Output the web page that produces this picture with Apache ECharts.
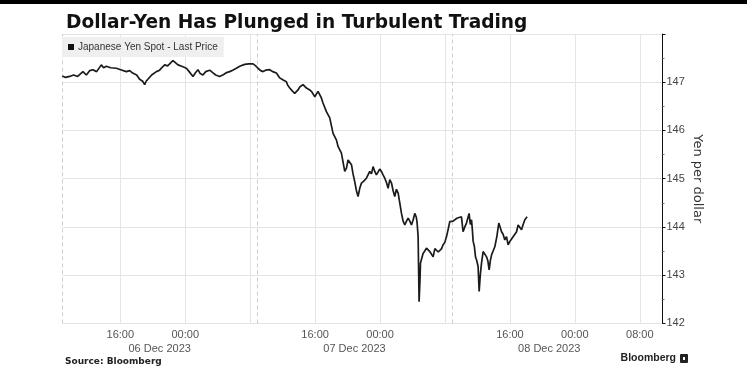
<!DOCTYPE html>
<html>
<head>
<meta charset="utf-8">
<script src="https://cdn.jsdelivr.net/npm/echarts@6/dist/echarts.min.js"></script>
<style>
html,body{margin:0;padding:0;background:#fff;}
#c{width:747px;height:385px;}
</style>
</head>
<body>
<div id="c"></div>
<script>
// Hours counted from 06 Dec 00:00 (label clock)
const times = [8.85,9.26,9.75,10.24,10.74,11.39,11.81,12.22,12.62,13.08,13.66,13.94,14.27,14.80,15.51,16.04,16.74,17.15,17.52,18.01,18.38,18.75,19.00,19.18,19.40,19.86,20.44,20.84,21.21,21.46,21.83,22.20,22.48,22.82,23.10,23.56,24.14,24.48,24.67,24.95,25.28,25.57,25.84,26.18,26.52,26.76,27.01,27.38,27.75,28.24,28.73,29.10,29.47,29.84,30.30,30.71,31.32,31.82,32.35,32.68,32.96,33.29,33.58,33.91,34.40,34.77,35.23,35.64,36.01,36.46,36.62,36.87,37.18,37.49,37.89,38.10,38.51,38.93,39.34,39.59,39.96,40.36,40.78,40.97,41.39,41.59,41.80,42.01,42.21,42.42,42.63,42.82,43.03,43.24,43.44,43.65,43.86,44.06,44.27,44.48,44.67,44.88,45.09,45.29,45.50,45.71,45.99,46.32,46.52,46.73,46.94,47.14,47.35,47.55,47.75,47.96,48.17,48.37,48.58,48.79,48.99,49.20,49.41,49.61,49.81,50.02,50.23,50.43,50.64,50.84,51.05,51.26,51.46,51.67,51.87,52.08,52.28,52.47,52.57,52.69,52.81,52.92,52.98,53.14,53.30,53.51,53.72,53.92,54.13,54.34,54.54,54.75,54.96,55.17,55.37,55.58,55.77,55.98,56.19,56.39,56.59,56.80,57.00,57.21,57.46,57.70,58.03,58.23,58.44,58.65,58.81,58.97,59.12,59.27,59.37,59.47,59.62,59.76,59.92,60.08,60.21,60.35,60.50,60.70,60.91,61.12,61.28,61.44,61.59,61.74,61.93,62.14,62.39,62.63,62.79,62.97,63.16,63.37,63.58,63.78,63.99,64.20,64.40,64.61,64.82,65.01,65.22,65.43,65.63,65.84,66.12];
const prices = [147.13,147.10,147.12,147.15,147.12,147.22,147.15,147.24,147.26,147.22,147.36,147.30,147.33,147.30,147.29,147.26,147.22,147.24,147.19,147.15,147.06,147.02,146.95,147.02,147.05,147.15,147.22,147.25,147.32,147.36,147.34,147.40,147.45,147.40,147.36,147.33,147.29,147.22,147.18,147.12,147.20,147.26,147.18,147.15,147.22,147.18,147.25,147.20,147.15,147.12,147.16,147.20,147.22,147.25,147.29,147.33,147.37,147.38,147.38,147.34,147.29,147.24,147.22,147.25,147.26,147.22,147.19,147.09,147.05,147.01,146.94,146.88,146.82,146.77,146.84,146.90,146.95,146.88,146.84,146.80,146.70,146.81,146.67,146.57,146.39,146.42,146.26,146.22,145.94,145.98,145.80,145.67,145.70,145.53,145.55,145.15,145.22,145.39,145.35,145.29,145.10,144.94,144.75,144.63,144.80,144.91,144.95,145.01,145.08,145.15,145.10,145.25,145.15,145.08,145.12,145.20,145.15,145.08,145.01,144.92,144.80,144.98,144.91,144.75,144.63,144.78,144.70,144.50,144.28,144.12,144.04,144.12,144.18,144.12,144.04,144.15,144.28,144.20,144.08,143.80,142.45,142.90,143.25,143.35,143.45,143.50,143.56,143.60,143.49,143.45,143.38,143.55,143.52,143.48,143.49,143.55,143.63,143.68,143.80,143.95,144.11,144.15,144.12,144.15,144.18,144.17,144.21,143.90,144.00,144.08,144.18,144.28,144.05,144.15,143.95,143.70,143.60,143.38,143.30,143.18,142.66,143.00,143.25,143.49,143.45,143.38,143.30,143.11,143.30,143.42,143.50,143.59,143.80,144.08,144.00,143.90,143.85,143.73,143.80,143.63,143.70,143.75,143.73,143.85,143.90,144.04,144.00,143.94,144.05,144.15,144.21];

const timeTickHours = [16,24,40,48,64,72,80];
const timeTickLabels = ['16:00','00:00','16:00','00:00','16:00','00:00','08:00'];
const gridHours = [16,24,32,40,48,56,64,72,80];
const dayBoundHours = [8.85,32.85,56.85];
const dateLabelHours = [20.85,44.85,68.85];
const dateLabels = ['06 Dec 2023','07 Dec 2023','08 Dec 2023'];
const yTicks = [142,143,144,145,146,147];

const X_MIN = 8.85, X_MAX = 82.8;
const labelFont = '"Liberation Sans",Arial,sans-serif';

const data = times.map((t,i)=>[t,prices[i]]);
const chart = echarts.init(document.getElementById('c'), null, {renderer:'canvas'});

const gridLines = gridHours.map(h=>({xAxis:h, lineStyle:{color:'#e4e4e4',width:1,type:'solid'}}))
  .concat(dayBoundHours.map(h=>({xAxis:h, lineStyle:{color:'#cfcfcf',width:1,type:[4,3]}})));

chart.setOption({
  animation:false,
  backgroundColor:'#fff',
  title:{
    text:'Dollar-Yen Has Plunged in Turbulent Trading',
    left:61, top:9,
    textStyle:{fontFamily:'"DejaVu Sans",sans-serif',fontWeight:'bold',fontSize:18.6,color:'#111'}
  },
  legend:{
    left:62, top:37,
    data:['Japanese Yen Spot - Last Price'],
    icon:'rect', itemWidth:6, itemHeight:6, itemGap:4,
    backgroundColor:'#efefef', padding:[5,6,5,6],
    textStyle:{fontSize:10,color:'#333',fontFamily:labelFont,padding:[0,0,0,-1]},
    selectedMode:false
  },
  grid:{left:62.3, right:84.5, top:34, bottom:61.6, containLabel:false},
  xAxis:[{
    type:'value', min:X_MIN, max:X_MAX,
    axisLine:{show:false}, axisTick:{show:false}, splitLine:{show:false},
    axisLabel:{customValues:timeTickHours, margin:6, color:'#555', fontSize:11, fontFamily:labelFont,
      formatter:function(v){const i=timeTickHours.indexOf(v);return i>=0?timeTickLabels[i]:'';}}
  },{
    type:'value', min:X_MIN, max:X_MAX, position:'bottom', offset:14,
    axisLine:{show:false}, axisTick:{show:false}, splitLine:{show:false},
    axisLabel:{customValues:dateLabelHours, margin:6, color:'#555', fontSize:11, fontFamily:labelFont,
      formatter:function(v){const i=dateLabelHours.indexOf(v);return i>=0?dateLabels[i]:'';}}
  }],
  yAxis:{
    type:'value', position:'right', min:142, max:148, interval:1,
    name:'Yen per dollar', nameLocation:'middle', nameRotate:-90, nameGap:28, nameMoveOverlap:false,
    nameTextStyle:{color:'#333',fontSize:13,fontFamily:'"DejaVu Sans",sans-serif'},
    axisLine:{show:true,lineStyle:{color:'#111',width:1}},
    axisTick:{show:true,length:3,lineStyle:{color:'#111'}},
    minorTick:{show:true,splitNumber:2,length:2,lineStyle:{color:'#777'}},
    splitLine:{show:true,lineStyle:{color:'#e4e4e4',width:1}},
    axisLabel:{margin:4,color:'#444',fontSize:11,fontFamily:labelFont,
      formatter:function(v){return yTicks.indexOf(v)>=0?String(v):'';}}
  },
  series:[{
    name:'Japanese Yen Spot - Last Price',
    type:'line', data:data, xAxisIndex:0,
    showSymbol:false, symbol:'none',
    lineStyle:{color:'#1b1b1b',width:1.7},
    itemStyle:{color:'#111'},
    markLine:{silent:true,symbol:'none',label:{show:false},data:gridLines,z:1},
    z:3
  }],
  graphic:[
    {type:'rect',left:0,top:0,shape:{width:747,height:4},style:{fill:'#000'}},
    {type:'text',left:65,top:357,style:{text:'Source: Bloomberg',fontSize:9,fontWeight:'bold',fill:'#222',fontFamily:'"DejaVu Sans",sans-serif'}},
    {type:'text',right:71,top:353,style:{text:'Bloomberg',fontSize:10.5,fontWeight:'bold',fill:'#222',fontFamily:labelFont}},
    {type:'rect',left:680,top:354,shape:{width:8,height:9,r:1},style:{fill:'#222'}},
    {type:'rect',left:683,top:357,shape:{width:2,height:3},style:{fill:'#fff'}}
  ]
});
</script>
</body>
</html>
